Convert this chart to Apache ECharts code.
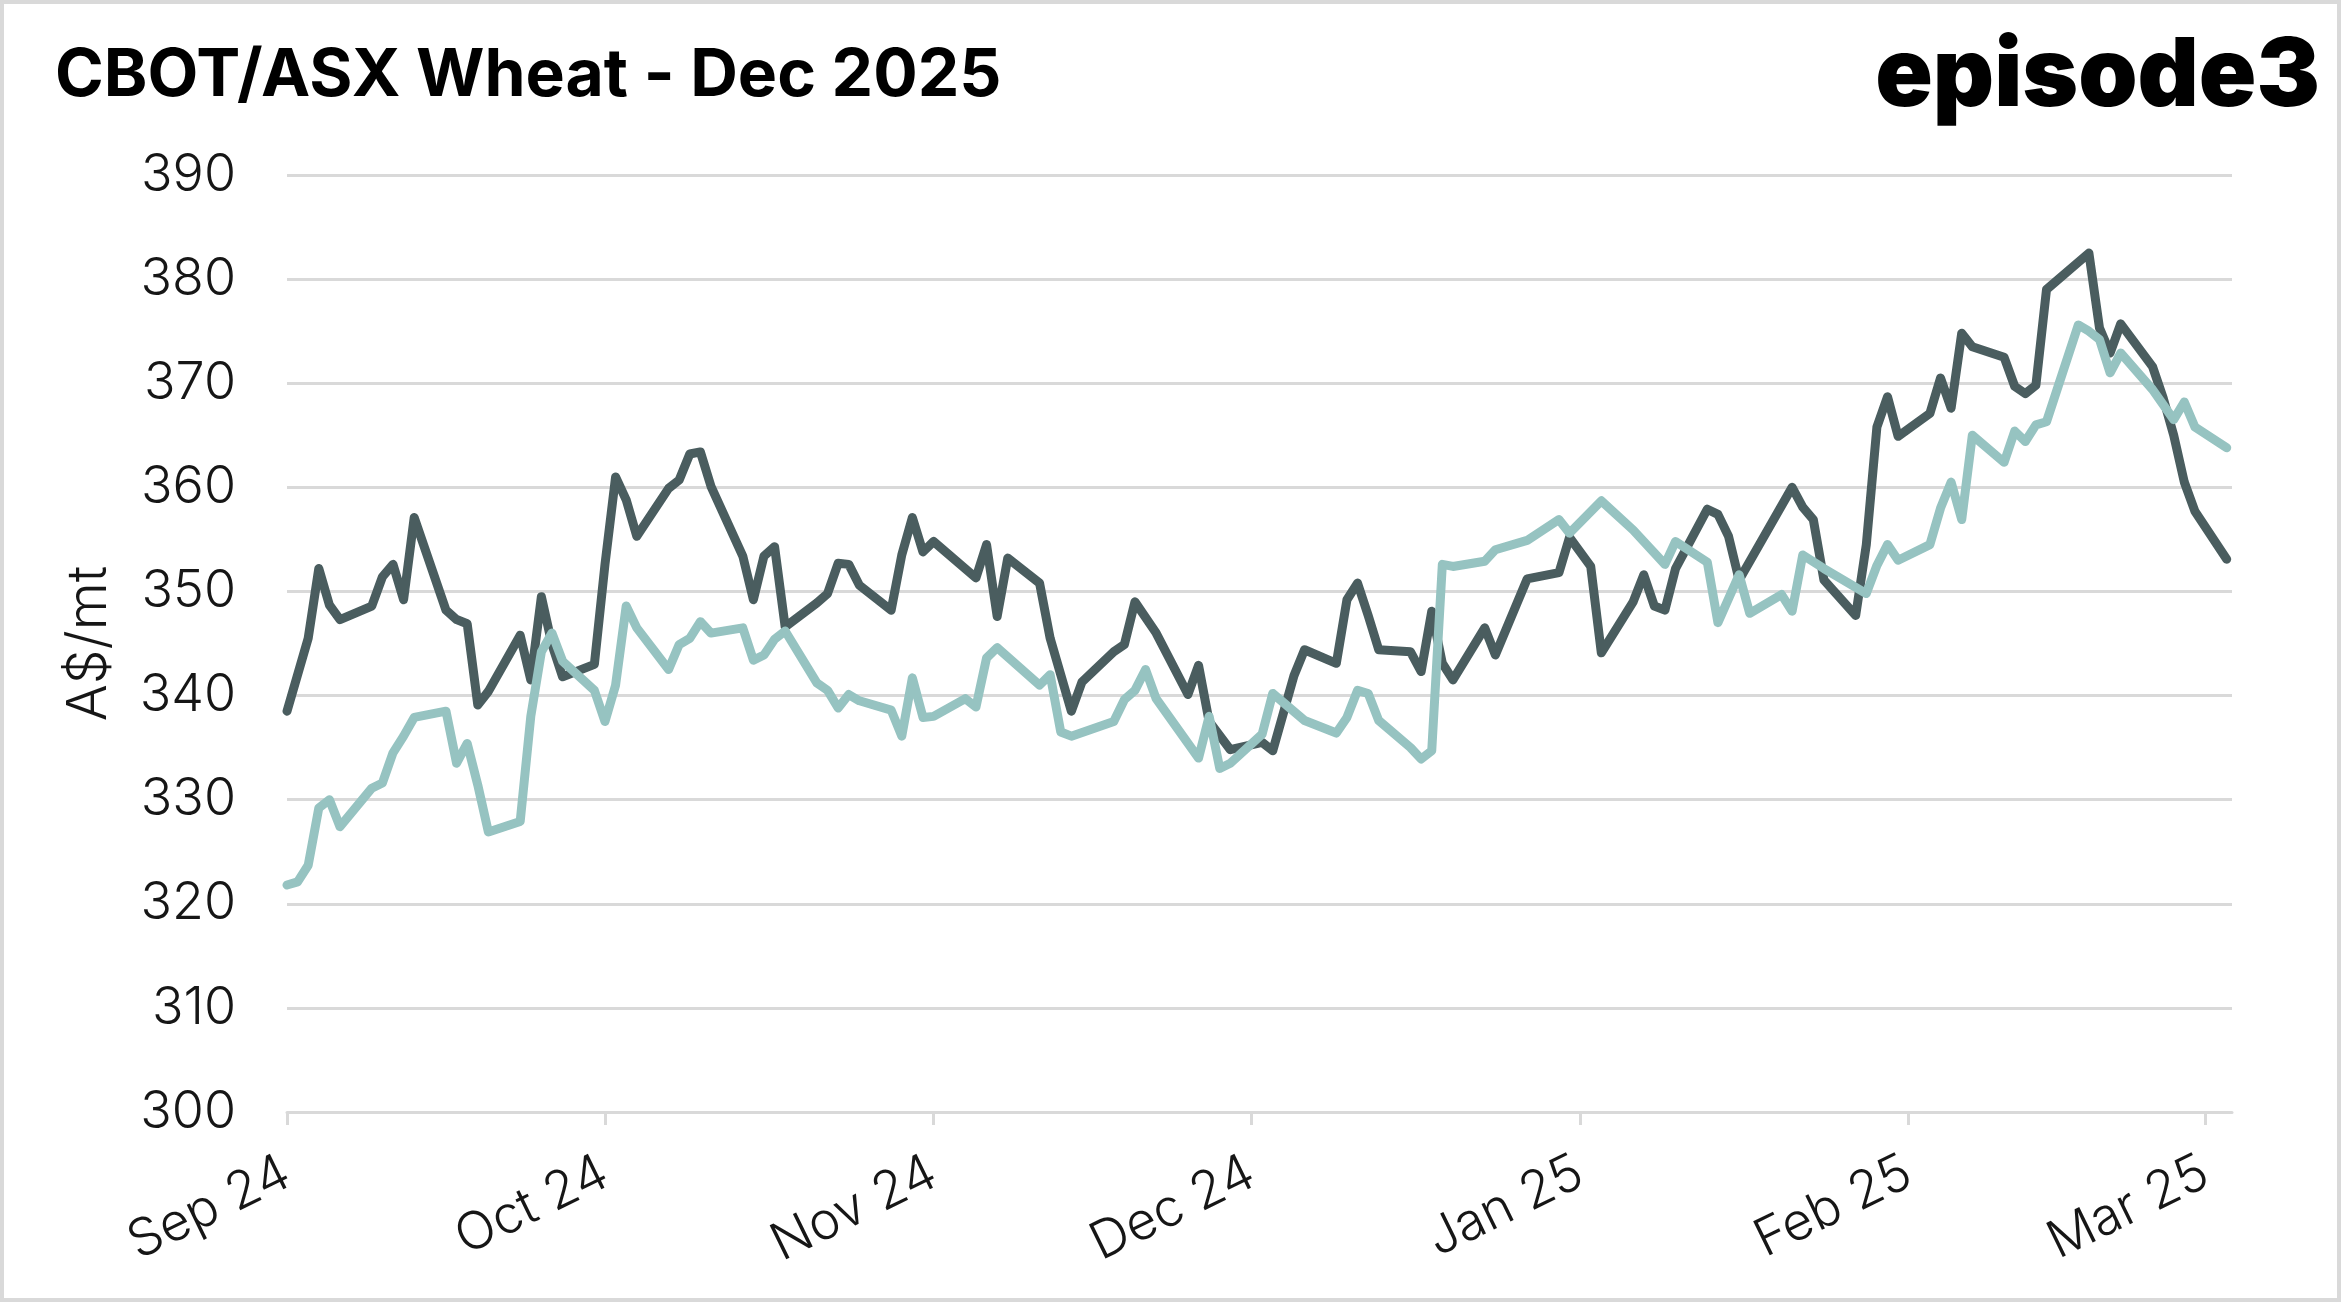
<!DOCTYPE html>
<html>
<head>
<meta charset="utf-8">
<script src="https://cdn.jsdelivr.net/npm/echarts@6/dist/echarts.min.js"></script>
<style>
html,body{margin:0;padding:0;background:#fff;}
#chart{width:2341px;height:1302px;}
</style>
</head>
<body>
<div id="chart"></div>
<script>
const titleText = 'CBOT/ASX Wheat - Dec 2025';
const logoText = 'episode3';
const yAxisName = 'A$/mt';
const monthLabels = ['Jan','Feb','Mar','Apr','May','Jun','Jul','Aug','Sep','Oct','Nov','Dec'];
const yTicks = {min: 300, max: 390, interval: 10};

const darkDates = ['2024-09-01','2024-09-03','2024-09-04','2024-09-05','2024-09-06','2024-09-09','2024-09-10','2024-09-11','2024-09-12','2024-09-13','2024-09-16','2024-09-17','2024-09-18','2024-09-19','2024-09-20','2024-09-23','2024-09-24','2024-09-25','2024-09-26','2024-09-27','2024-09-30','2024-10-01','2024-10-02','2024-10-03','2024-10-04','2024-10-07','2024-10-08','2024-10-09','2024-10-10','2024-10-11','2024-10-14','2024-10-15','2024-10-16','2024-10-17','2024-10-18','2024-10-21','2024-10-22','2024-10-23','2024-10-24','2024-10-25','2024-10-28','2024-10-29','2024-10-30','2024-10-31','2024-11-01','2024-11-05','2024-11-06','2024-11-07','2024-11-08','2024-11-11','2024-11-12','2024-11-14','2024-11-15','2024-11-18','2024-11-19','2024-11-20','2024-11-22','2024-11-25','2024-11-26','2024-11-27','2024-11-29','2024-12-02','2024-12-03','2024-12-05','2024-12-06','2024-12-09','2024-12-10','2024-12-11','2024-12-12','2024-12-13','2024-12-16','2024-12-17','2024-12-18','2024-12-19','2024-12-20','2024-12-23','2024-12-24','2024-12-27','2024-12-30','2024-12-31','2025-01-02','2025-01-03','2025-01-06','2025-01-07','2025-01-08','2025-01-09','2025-01-10','2025-01-13','2025-01-14','2025-01-15','2025-01-16','2025-01-21','2025-01-22','2025-01-23','2025-01-24','2025-01-27','2025-01-28','2025-01-29','2025-01-30','2025-01-31','2025-02-03','2025-02-04','2025-02-05','2025-02-06','2025-02-07','2025-02-10','2025-02-11','2025-02-12','2025-02-13','2025-02-14','2025-02-18','2025-02-19','2025-02-20','2025-02-21','2025-02-24','2025-02-25','2025-02-26','2025-02-27','2025-02-28','2025-03-03'];
const darkValues = [338.5,345.5,352.2,348.7,347.3,348.6,351.4,352.6,349.2,357.1,348.2,347.3,346.9,339.1,340.4,345.8,341.5,349.5,344.9,341.8,343.0,352.6,361.0,358.8,355.3,359.9,360.7,363.2,363.4,360.1,353.4,349.2,353.4,354.3,346.6,348.9,349.8,352.7,352.6,350.6,348.2,353.5,357.1,353.8,354.8,351.3,354.5,347.6,353.2,350.8,345.5,338.5,341.3,344.2,344.9,349.0,346.0,340.1,342.9,337.5,334.8,335.5,334.7,341.9,344.4,343.1,349.2,350.8,347.7,344.4,344.2,342.3,348.1,343.1,341.5,346.5,343.9,351.2,351.8,355.2,352.4,344.1,349.0,351.6,348.6,348.2,352.2,357.9,357.4,355.3,351.1,360.0,358.1,356.9,351.1,347.7,354.5,365.8,368.7,364.9,367.1,370.5,367.6,374.8,373.5,372.5,369.7,369.0,369.8,379.0,382.5,375.3,372.9,375.7,371.6,368.6,365.0,360.5,357.7,353.1];

const lightDates = ['2024-09-01','2024-09-02','2024-09-03','2024-09-04','2024-09-05','2024-09-06','2024-09-09','2024-09-10','2024-09-11','2024-09-12','2024-09-13','2024-09-16','2024-09-17','2024-09-18','2024-09-19','2024-09-20','2024-09-23','2024-09-24','2024-09-25','2024-09-26','2024-09-27','2024-09-30','2024-10-01','2024-10-02','2024-10-03','2024-10-04','2024-10-07','2024-10-08','2024-10-09','2024-10-10','2024-10-11','2024-10-14','2024-10-15','2024-10-16','2024-10-17','2024-10-18','2024-10-21','2024-10-22','2024-10-23','2024-10-24','2024-10-25','2024-10-28','2024-10-29','2024-10-30','2024-10-31','2024-11-01','2024-11-04','2024-11-05','2024-11-06','2024-11-07','2024-11-11','2024-11-12','2024-11-13','2024-11-14','2024-11-18','2024-11-19','2024-11-20','2024-11-21','2024-11-22','2024-11-26','2024-11-27','2024-11-28','2024-11-29','2024-12-02','2024-12-03','2024-12-06','2024-12-09','2024-12-10','2024-12-11','2024-12-12','2024-12-13','2024-12-16','2024-12-17','2024-12-18','2024-12-19','2024-12-20','2024-12-23','2024-12-24','2024-12-27','2024-12-30','2024-12-31','2025-01-03','2025-01-06','2025-01-09','2025-01-10','2025-01-13','2025-01-14','2025-01-16','2025-01-17','2025-01-20','2025-01-21','2025-01-22','2025-01-24','2025-01-28','2025-01-29','2025-01-30','2025-01-31','2025-02-03','2025-02-04','2025-02-05','2025-02-06','2025-02-07','2025-02-10','2025-02-11','2025-02-12','2025-02-13','2025-02-14','2025-02-17','2025-02-18','2025-02-19','2025-02-20','2025-02-21','2025-02-24','2025-02-26','2025-02-27','2025-02-28','2025-03-03'];
const lightValues = [321.8,322.1,323.7,329.2,330.0,327.4,331.1,331.6,334.5,336.1,337.9,338.5,333.5,335.4,331.4,326.9,327.9,338.0,344.2,346.0,343.3,340.5,337.5,341.0,348.6,346.5,342.5,344.9,345.5,347.1,346.0,346.5,343.4,343.9,345.4,346.2,341.2,340.5,338.8,340.1,339.5,338.6,336.1,341.7,337.9,338.0,339.7,338.9,343.6,344.6,341.0,342.0,336.5,336.1,337.5,339.6,340.5,342.5,339.7,334.0,338.0,333.0,333.5,336.3,340.2,337.6,336.4,337.9,340.5,340.2,337.6,335.0,333.9,334.7,352.6,352.4,352.9,354.0,354.9,356.9,355.6,358.7,355.9,352.6,354.8,352.8,347.0,351.6,347.9,349.7,348.1,353.5,352.2,349.8,352.5,354.5,353.0,354.5,358.0,360.5,356.9,365.0,362.4,365.4,364.4,366.0,366.3,375.6,375.0,374.2,371.0,372.9,369.4,366.5,368.2,365.8,363.8];

const axisStart = '2024-09-01';
const axisEnd = '2025-03-03 12:00:00';

const chart = echarts.init(document.getElementById('chart'), null, {renderer: 'canvas'});
const pair = (dates, vals) => dates.map((d, i) => [d, vals[i]]);
const labelFont = {fontFamily: 'Inter', fontWeight: 300, fontSize: 52, color: '#161616'};

chart.setOption({
  backgroundColor: '#ffffff',
  animation: false,
  graphic: [{
    type: 'rect', silent: true,
    shape: {x: 2, y: 2, width: 2337, height: 1298},
    style: {fill: 'none', stroke: '#d9d9d9', lineWidth: 4}
  }],
  title: [
    {text: titleText, left: 50, top: 38,
     textStyle: {fontFamily: 'Inter', fontWeight: 700, fontSize: 66, color: '#000'}},
    {text: logoText, right: 16, top: 25,
     textStyle: {fontFamily: 'Inter', fontWeight: 900, fontSize: 95, color: '#000'}}
  ],
  grid: {left: 287, right: 109, top: 175, bottom: 190, containLabel: false},
  xAxis: {
    type: 'time',
    min: axisStart,
    max: axisEnd,
    splitNumber: 6,
    axisLine: {show: true, lineStyle: {color: '#d9d9d9', width: 3}},
    axisTick: {show: true, length: 13, lineStyle: {color: '#d9d9d9', width: 3}},
    splitLine: {show: false},
    axisLabel: Object.assign({}, labelFont, {
      rotate: 26,
      margin: 58,
      hideOverlap: false,
      formatter: function (v) {
        const d = new Date(v);
        return monthLabels[d.getMonth()] + ' ' + String(d.getFullYear()).slice(2);
      }
    })
  },
  yAxis: {
    type: 'value',
    min: yTicks.min, max: yTicks.max, interval: yTicks.interval,
    name: yAxisName,
    nameLocation: 'middle',
    nameGap: 170,
    nameTextStyle: Object.assign({}, labelFont, {fontSize: 55}),
    axisLine: {show: false},
    axisTick: {show: false},
    splitLine: {show: true, lineStyle: {color: '#d9d9d9', width: 3}},
    axisLabel: Object.assign({}, labelFont, {margin: 51})
  },
  series: [
    {name: 'CBOT', type: 'line', data: pair(darkDates, darkValues), showSymbol: false,
     lineStyle: {color: '#4a5d5f', width: 9, join: 'round', cap: 'round'}, z: 2},
    {name: 'ASX', type: 'line', data: pair(lightDates, lightValues), showSymbol: false,
     lineStyle: {color: '#96c3c1', width: 9, join: 'round', cap: 'round'}, z: 3}
  ]
});
</script>
</body>
</html>
